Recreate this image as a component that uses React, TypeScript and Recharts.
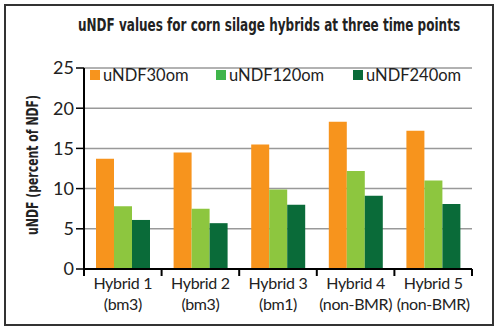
import { useLayoutEffect, useRef, useState } from 'react'
import { BarChart, Bar, XAxis, YAxis, CartesianGrid, Legend } from 'recharts'

const hybrids = ['Hybrid 1', 'Hybrid 2', 'Hybrid 3', 'Hybrid 4', 'Hybrid 5']
const hybridTypes = ['(bm3)', '(bm3)', '(bm1)', '(non-BMR)', '(non-BMR)']
const undf30 = [13.7, 14.5, 15.5, 18.3, 17.2]
const undf120 = [7.8, 7.5, 9.9, 12.2, 11.0]
const undf240 = [6.1, 5.7, 8.0, 9.1, 8.1]
const yTicks = [0, 5, 10, 15, 20, 25]

const seriesNames = ['uNDF30om', 'uNDF120om', 'uNDF240om']
const barColors = ['#f7941d', '#8dc63f', '#0a6b39']
const legendColors = ['#f7941d', '#3fb54a', '#0a6b39']

const chartData = hybrids.map((h, i) => ({
  name: h,
  sub: hybridTypes[i],
  uNDF30om: undf30[i],
  uNDF120om: undf120[i],
  uNDF240om: undf240[i],
}))

const FONT = 'Lato, "Open Sans", sans-serif'
const BOLD_FONT = '"DejaVu Sans", sans-serif'
const PLOT_LEFT = 84
const PLOT_RIGHT = 472
const BAND = (PLOT_RIGHT - PLOT_LEFT) / hybrids.length

// squeezes a bold text horizontally to a target width (condensed look)
function FitText({ children, width, transform, fontSize }: any) {
  const ref = useRef<SVGTextElement>(null)
  const [sx, setSx] = useState(0.8)
  useLayoutEffect(() => {
    if (ref.current) {
      const w = ref.current.getBBox().width
      if (w > 0) setSx(width / w)
    }
  }, [width])
  return (
    <g transform={transform}>
      <text
        ref={ref}
        transform={`scale(${sx},1)`}
        fontFamily={BOLD_FONT}
        fontWeight="bold"
        fontSize={fontSize}
        fill="#222"
      >
        {children}
      </text>
    </g>
  )
}

function CategoryTick(props: any) {
  const { x, y, payload, index } = props
  const half = BAND / 2
  return (
    <g>
      <line x1={x - half} x2={x - half} y1={y - 8} y2={y - 1} stroke="#000" strokeWidth={2} />
      {index === hybrids.length - 1 && (
        <line x1={x + half} x2={x + half} y1={y - 8} y2={y - 1} stroke="#000" strokeWidth={2} />
      )}
      <text x={x} y={y + 12} textAnchor="middle" fontFamily={FONT} fontSize={16} letterSpacing={-0.3} fill="#222">
        {payload.value}
      </text>
      <text x={x} y={y + 33} textAnchor="middle" fontFamily={FONT} fontSize={16} letterSpacing={-0.4} fill="#222">
        {hybridTypes[index]}
      </text>
    </g>
  )
}

function LegendRow() {
  const xs = [0, 126, 263]
  return (
    <div style={{ position: 'relative', height: 20, width: 380 }}>
      {seriesNames.map((n, i) => (
        <div
          key={n}
          style={{
            position: 'absolute',
            left: xs[i],
            top: 0,
            display: 'flex',
            alignItems: 'center',
            fontFamily: FONT,
            fontSize: 16.5,
            color: '#222',
            whiteSpace: 'nowrap',
          }}
        >
          <span style={{ width: 10, height: 10, background: legendColors[i], marginRight: 3, display: 'inline-block' }} />
          {n}
        </div>
      ))}
    </div>
  )
}

export default function App() {
  return (
    <div style={{ position: 'relative', width: 500, height: 333, background: '#fff', overflow: 'hidden' }}>
      <style>{'body{margin:0}'}</style>
      <div style={{ position: 'absolute', left: 0, top: 0 }}>
        <BarChart
          width={500}
          height={333}
          data={chartData}
          margin={{ top: 48, right: 500 - PLOT_RIGHT, bottom: 24, left: PLOT_LEFT - 40 }}
          barCategoryGap={12}
          barGap={0}
        >
          <CartesianGrid vertical={false} stroke="#999" strokeWidth={1.5} />
          <XAxis
            dataKey="name"
            axisLine={{ stroke: '#000', strokeWidth: 2 }}
            tickLine={false}
            tick={<CategoryTick />}
            height={40}
            interval={0}
          />
          <YAxis
            domain={[0, 25]}
            ticks={yTicks}
            width={40}
            axisLine={{ stroke: '#000', strokeWidth: 2 }}
            tickLine={{ stroke: '#000', strokeWidth: 1.5 }}
            tickSize={8}
            tick={{ fontFamily: FONT, fontSize: 18, fill: '#222' }}
          />
          <Legend
            verticalAlign="top"
            content={() => <LegendRow />}
            wrapperStyle={{ position: 'absolute', top: 65, left: 90, width: 380 }}
          />
          {seriesNames.map((n, i) => (
            <Bar key={n} dataKey={n} fill={barColors[i]} isAnimationActive={false} />
          ))}
        </BarChart>
      </div>
      <svg
        width={500}
        height={333}
        style={{ position: 'absolute', left: 0, top: 0, pointerEvents: 'none' }}
      >
        <rect x={5} y={5} width={488} height={320} fill="none" stroke="#333" strokeWidth={2} />
        <FitText transform="translate(78, 31)" width={382} fontSize={17.5}>
          uNDF values for corn silage hybrids at three time points
        </FitText>
        <FitText transform="translate(38, 235) rotate(-90)" width={140} fontSize={15}>
          uNDF (percent of NDF)
        </FitText>
      </svg>
    </div>
  )
}
